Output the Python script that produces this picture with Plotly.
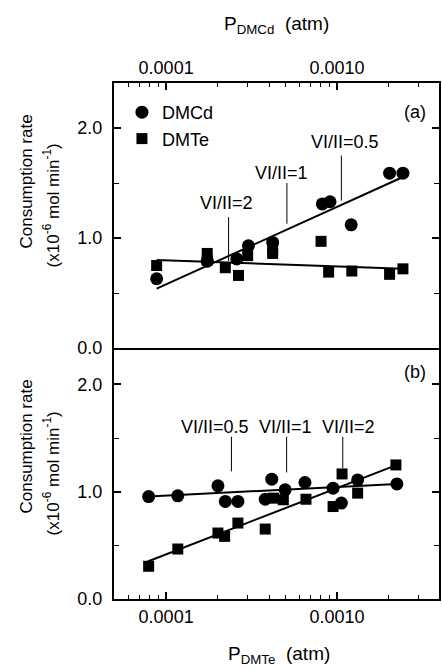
import math
import plotly.graph_objects as go

# ---------------- data ----------------
# Panel (a): x = P_DMCd (atm)
dmcd_a_x = [8.8e-5, 1.74e-4, 2.59e-4, 3.03e-4, 4.2e-4, 8.2e-4, 9.1e-4, 1.21e-3, 2.03e-3, 2.43e-3]
dmcd_a_y = [0.63, 0.79, 0.81, 0.93, 0.96, 1.31, 1.33, 1.12, 1.59, 1.59]
dmte_a_x = [8.8e-5, 1.74e-4, 1.74e-4, 2.22e-4, 2.65e-4, 3.0e-4, 4.2e-4, 4.2e-4, 8.06e-4, 8.93e-4, 1.22e-3, 2.03e-3, 2.43e-3]
dmte_a_y = [0.75, 0.86, 0.80, 0.73, 0.66, 0.84, 0.90, 0.86, 0.97, 0.69, 0.70, 0.67, 0.72]
fit_dmcd_a_x = [8.8e-5, 2.43e-3]
fit_dmcd_a_y = [0.54, 1.555]
fit_dmte_a_x = [8.8e-5, 2.43e-3]
fit_dmte_a_y = [0.80, 0.72]

# Panel (b): x = P_DMTe (atm)
dmcd_b_x = [7.9e-5, 1.17e-4, 2.01e-4, 2.22e-4, 2.63e-4, 3.8e-4, 4.15e-4, 4.97e-4, 6.49e-4, 9.48e-4, 1.06e-3, 1.32e-3, 2.24e-3]
dmcd_b_y = [0.955, 0.962, 1.055, 0.91, 0.91, 0.93, 1.117, 1.018, 1.086, 1.033, 0.894, 1.11, 1.073]
dmte_b_x = [7.9e-5, 1.17e-4, 2.01e-4, 2.2e-4, 2.63e-4, 3.8e-4, 4.25e-4, 4.85e-4, 6.58e-4, 9.48e-4, 1.07e-3, 1.32e-3, 2.21e-3]
dmte_b_y = [0.305, 0.466, 0.615, 0.584, 0.708, 0.652, 0.94, 0.925, 0.93, 0.862, 1.166, 0.987, 1.25]
fit_dmcd_b_x = [7.9e-5, 2.24e-3]
fit_dmcd_b_y = [0.955, 1.073]
fit_dmte_b_x = [7.8e-5, 2.24e-3]
fit_dmte_b_y = [0.35, 1.25]

# VI/II markers
ann_a_labels = ["VI/II=2", "VI/II=1", "VI/II=0.5"]
ann_a_line_x = [2.32e-4, 5.09e-4, 1.06e-3]
ann_a_text_x = [2.25e-4, 4.75e-4, 1.12e-3]
ann_a_text_y = [1.32, 1.59, 1.87]
ann_a_top = [1.19, 1.50, 1.75]
ann_a_bot = [0.79, 1.13, 1.34]

ann_b_labels = ["VI/II=0.5", "VI/II=1", "VI/II=2"]
ann_b_line_x = [2.41e-4, 5.07e-4, 1.08e-3]
ann_b_text_x = [1.93e-4, 4.99e-4, 1.16e-3]
ann_b_text_y = [1.60, 1.60, 1.60]
ann_b_top = [1.513, 1.513, 1.513]
ann_b_bot = [1.19, 1.18, 1.22]

x_major = [1e-4, 1e-3]
x_major_text = ["0.0001", "0.0010"]
x_minor = [6e-5, 7e-5, 8e-5, 9e-5, 2e-4, 3e-4, 4e-4, 5e-4, 6e-4, 7e-4, 8e-4, 9e-4, 2e-3, 3e-3]
y_major = [0, 1, 2]
y_major_text = ["0.0", "1.0", "2.0"]
y_minor = [0.5, 1.5]

FONT = "Liberation Sans, Arial, Helvetica, sans-serif"
BLACK = "black"

fig = go.Figure()

# panel (a)
fig.add_trace(go.Scatter(x=dmcd_a_x, y=dmcd_a_y, mode="markers", name="DMCd",
                         marker=dict(symbol="circle", size=13, color=BLACK),
                         xaxis="x2", yaxis="y2"))
fig.add_trace(go.Scatter(x=dmte_a_x, y=dmte_a_y, mode="markers", name="DMTe",
                         marker=dict(symbol="square", size=11, color=BLACK),
                         xaxis="x2", yaxis="y2"))
fig.add_trace(go.Scatter(x=fit_dmcd_a_x, y=fit_dmcd_a_y, mode="lines", showlegend=False,
                         line=dict(color=BLACK, width=2), xaxis="x2", yaxis="y2"))
fig.add_trace(go.Scatter(x=fit_dmte_a_x, y=fit_dmte_a_y, mode="lines", showlegend=False,
                         line=dict(color=BLACK, width=2), xaxis="x2", yaxis="y2"))
for lx, t, b in zip(ann_a_line_x, ann_a_top, ann_a_bot):
    fig.add_trace(go.Scatter(x=[lx, lx], y=[t, b], mode="lines", showlegend=False,
                             line=dict(color=BLACK, width=1), xaxis="x2", yaxis="y2"))

# panel (b)
fig.add_trace(go.Scatter(x=dmcd_b_x, y=dmcd_b_y, mode="markers", showlegend=False,
                         marker=dict(symbol="circle", size=13, color=BLACK),
                         xaxis="x", yaxis="y"))
fig.add_trace(go.Scatter(x=dmte_b_x, y=dmte_b_y, mode="markers", showlegend=False,
                         marker=dict(symbol="square", size=11, color=BLACK),
                         xaxis="x", yaxis="y"))
fig.add_trace(go.Scatter(x=fit_dmcd_b_x, y=fit_dmcd_b_y, mode="lines", showlegend=False,
                         line=dict(color=BLACK, width=2), xaxis="x", yaxis="y"))
fig.add_trace(go.Scatter(x=fit_dmte_b_x, y=fit_dmte_b_y, mode="lines", showlegend=False,
                         line=dict(color=BLACK, width=2), xaxis="x", yaxis="y"))
for lx, t, b in zip(ann_b_line_x, ann_b_top, ann_b_bot):
    fig.add_trace(go.Scatter(x=[lx, lx], y=[t, b], mode="lines", showlegend=False,
                             line=dict(color=BLACK, width=1), xaxis="x", yaxis="y"))

annotations = []
for lab, tx, ty in zip(ann_a_labels, ann_a_text_x, ann_a_text_y):
    annotations.append(dict(x=math.log10(tx), y=ty, xref="x2", yref="y2", text=lab,
                            xanchor="center", yanchor="middle", showarrow=False,
                            font=dict(size=18, family=FONT, color=BLACK)))
for lab, tx, ty in zip(ann_b_labels, ann_b_text_x, ann_b_text_y):
    annotations.append(dict(x=math.log10(tx), y=ty, xref="x", yref="y", text=lab,
                            xanchor="center", yanchor="middle", showarrow=False,
                            font=dict(size=18, family=FONT, color=BLACK)))

H = 516.0
W = 327.0
PB = (599 - 348) / H  # panel b height fraction

def px_x(px):
    return (px - 114) / W

def px_y(py):
    return 1 - (py - 83) / H

annotations += [
    dict(x=px_x(417), y=px_y(112), xref="paper", yref="paper", text="(a)", showarrow=False,
         xanchor="center", yanchor="middle", font=dict(size=18, family=FONT, color=BLACK)),
    dict(x=px_x(417), y=px_y(372), xref="paper", yref="paper", text="(b)", showarrow=False,
         xanchor="center", yanchor="middle", font=dict(size=18, family=FONT, color=BLACK)),
    dict(x=px_x(277), y=px_y(25), xref="paper", yref="paper",
         text="P<sub>DMCd</sub>  (atm)", showarrow=False, xanchor="center", yanchor="middle",
         font=dict(size=19, family=FONT, color=BLACK)),
    dict(x=px_x(280), y=px_y(655), xref="paper", yref="paper",
         text="P<sub>DMTe</sub>  (atm)", showarrow=False, xanchor="center", yanchor="middle",
         font=dict(size=19, family=FONT, color=BLACK)),
]
for (cy1, cy2) in [(182, 205), (447, 473)]:
    annotations.append(dict(x=px_x(25), y=px_y(cy1), xref="paper", yref="paper",
                            text="Consumption rate", textangle=-90, showarrow=False,
                            xanchor="center", yanchor="middle",
                            font=dict(size=17, family=FONT, color=BLACK)))
    annotations.append(dict(x=px_x(51), y=px_y(cy2), xref="paper", yref="paper",
                            text="(x10<sup>-6</sup> mol min<sup>-1</sup>)", textangle=-90, showarrow=False,
                            xanchor="center", yanchor="middle",
                            font=dict(size=17, family=FONT, color=BLACK)))

xr = [math.log10(5.0e-5) - 0.004, math.log10(3.95e-3)]

def xaxis_cfg(side, anchor, mirror):
    return dict(type="log", range=xr, domain=[0, 1], anchor=anchor, side=side,
                tickmode="array", tickvals=x_major, ticktext=x_major_text,
                ticks="inside", ticklen=7, tickwidth=1.5, tickcolor=BLACK,
                minor=dict(tickmode="array", tickvals=x_minor, ticks="inside", ticklen=4,
                           tickwidth=1.2, tickcolor=BLACK, showgrid=False),
                showline=True, linecolor=BLACK, linewidth=1.8, mirror=mirror,
                showgrid=False, zeroline=False,
                tickfont=dict(size=18, family=FONT, color=BLACK))

def yaxis_cfg(domain, rng, anchor):
    return dict(domain=domain, range=rng, anchor=anchor,
                tickmode="array", tickvals=y_major, ticktext=y_major_text,
                ticks="inside", ticklen=7, tickwidth=1.5, tickcolor=BLACK,
                minor=dict(tickmode="array", tickvals=y_minor, ticks="inside", ticklen=5,
                           tickwidth=1.2, tickcolor=BLACK, showgrid=False),
                showline=True, linecolor=BLACK, linewidth=2, mirror="ticks",
                showgrid=False, zeroline=False, ticklabelstandoff=6,
                tickfont=dict(size=18, family=FONT, color=BLACK))

fig.update_layout(
    width=442, height=669,
    margin=dict(l=114, r=1, t=83, b=70),
    paper_bgcolor="white", plot_bgcolor="white",
    font=dict(family=FONT, color=BLACK),
    xaxis=xaxis_cfg("bottom", "y", False),
    xaxis2=xaxis_cfg("top", "y2", True),
    yaxis=yaxis_cfg([0, PB], [0, 2.34], "x"),
    yaxis2=yaxis_cfg([PB, 1], [0, 2.41], "x2"),
    showlegend=True,
    legend=dict(x=px_x(122), y=px_y(94), xanchor="left", yanchor="top",
                bgcolor="rgba(0,0,0,0)", font=dict(size=18, family=FONT, color=BLACK),
                tracegroupgap=0, itemsizing="trace"),
    annotations=annotations,
)

fig.write_html("out.html")
